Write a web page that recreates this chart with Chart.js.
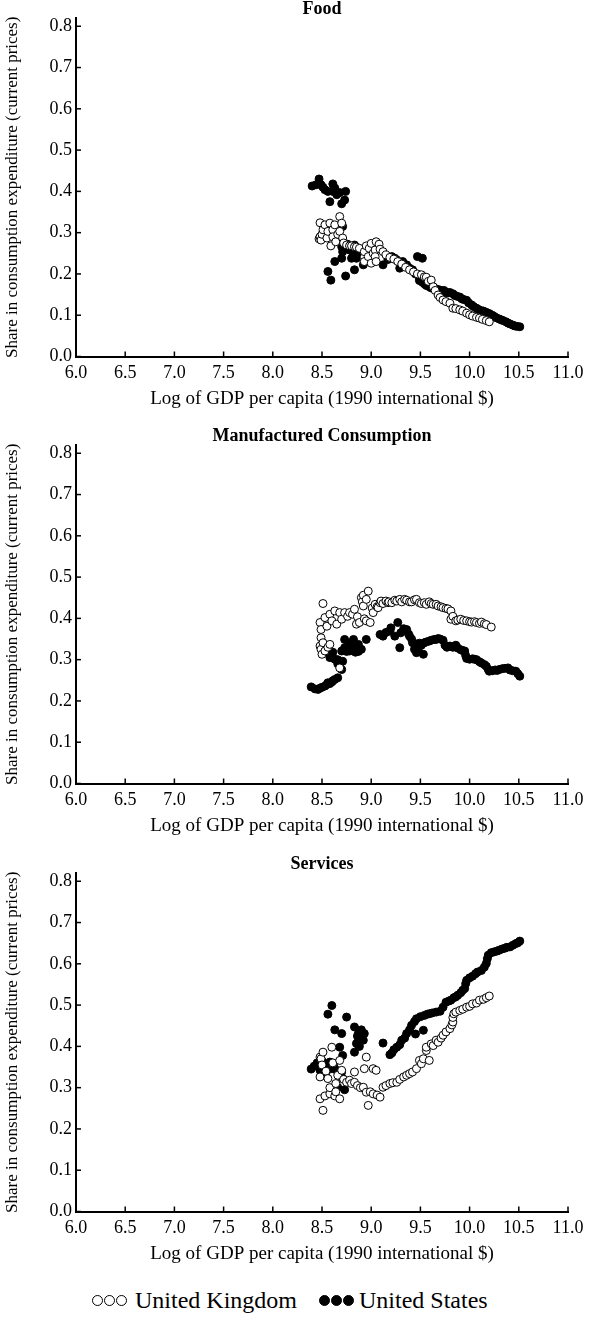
<!DOCTYPE html>
<html>
<head>
<meta charset="utf-8">
<script src="https://cdn.jsdelivr.net/npm/chart.js@4.4.1/dist/chart.umd.min.js"></script>
<style>
  html, body { margin: 0; padding: 0; background: #fff; }
  body { position: relative; width: 604px; height: 1317px; overflow: hidden; }
  canvas { position: absolute; left: 0; }
  #legend { position: absolute; top: 1287px; left: 92px; display: flex; align-items: center;
            font-family: 'Liberation Serif', 'DejaVu Serif', serif; font-size: 24px; color: #000; line-height: 26px; }
  .dot { display: inline-block; width: 9px; height: 9px; border: 1px solid #000; border-radius: 50%; margin-right: 1px; }
  .dot.open { background: #fff; }
  .dot.fill { background: #000; }
</style>
</head>
<body>
<canvas id="food" width="604" height="420" style="top:0px"></canvas>
<canvas id="manuf" width="604" height="420" style="top:427px"></canvas>
<canvas id="serv" width="604" height="420" style="top:855px"></canvas>
<div id="legend">
  <span class="dot open"></span><span class="dot open"></span><span class="dot open"></span>
  <span style="margin-left:7px">United Kingdom</span>
  <span style="margin-left:22px"></span>
  <span class="dot fill"></span><span class="dot fill"></span><span class="dot fill"></span>
  <span style="margin-left:4px">United States</span>
</div>
<script>
// panel titles and series names
var panelTitles = ["Food", "Manufactured Consumption", "Services"];
var seriesNames = ["United Kingdom", "United States"];

// x ticks: log GDP per capita, y ticks: share
var xMin = 6.0, xMax = 11.0, xStep = 0.5;
var yMin = 0.0, yMax = 0.82, yStep = 0.1;

// Food
var foodUK = [
  [8.47,0.285],[8.48,0.324],[8.48,0.290],[8.49,0.282],[8.50,0.296],[8.51,0.307],[8.53,0.319],[8.55,0.287],
  [8.56,0.303],[8.58,0.323],[8.59,0.268],[8.61,0.307],[8.61,0.290],[8.63,0.319],[8.64,0.278],[8.66,0.296],
  [8.68,0.339],[8.68,0.303],[8.70,0.323],[8.71,0.287],[8.72,0.275],[8.75,0.270],[8.78,0.268],[8.80,0.268],
  [8.83,0.266],[8.85,0.265],[8.88,0.262],[8.93,0.254],[8.93,0.230],[8.95,0.268],[8.97,0.242],[8.98,0.262],
  [9.00,0.274],[9.00,0.226],[9.02,0.250],[9.04,0.258],[9.04,0.242],[9.05,0.278],[9.05,0.230],[9.08,0.272],
  [9.09,0.260],[9.12,0.254],[9.15,0.246],[9.19,0.240],[9.23,0.236],[9.27,0.230],[9.31,0.224],[9.35,0.216],
  [9.39,0.210],[9.43,0.205],[9.47,0.200],[9.51,0.198],[9.54,0.193],[9.56,0.192],[9.58,0.182],[9.61,0.185],
  [9.63,0.169],[9.65,0.160],[9.68,0.149],[9.70,0.143],[9.73,0.137],[9.76,0.133],[9.80,0.129],[9.83,0.117],
  [9.86,0.116],[9.90,0.113],[9.93,0.110],[9.97,0.105],[10.00,0.101],[10.03,0.098],[10.07,0.095],[10.10,0.093],
  [10.13,0.090],[10.17,0.087],[10.20,0.084]
];
var foodUS = [
  [8.40,0.413],[8.44,0.416],[8.47,0.430],[8.49,0.416],[8.51,0.410],[8.53,0.404],[8.56,0.400],[8.58,0.375],
  [8.61,0.418],[8.61,0.400],[8.63,0.408],[8.65,0.392],[8.68,0.397],[8.70,0.370],[8.73,0.379],[8.74,0.400],
  [8.56,0.206],[8.59,0.185],[8.63,0.230],[8.70,0.238],[8.70,0.266],[8.71,0.254],[8.71,0.315],[8.74,0.195],
  [8.75,0.262],[8.76,0.272],[8.78,0.258],[8.80,0.238],[8.82,0.246],[8.83,0.270],[8.83,0.210],[8.85,0.238],
  [8.86,0.250],[8.87,0.262],[8.88,0.258],[8.92,0.222],[8.95,0.230],
  [9.12,0.222],[9.17,0.235],[9.21,0.242],[9.24,0.238],[9.26,0.234],[9.29,0.214],[9.29,0.226],[9.32,0.230],
  [9.34,0.220],[9.36,0.222],[9.39,0.214],[9.42,0.210],[9.47,0.242],[9.52,0.238],
  [9.45,0.200],[9.49,0.190],[9.49,0.184],[9.52,0.180],[9.54,0.176],[9.56,0.172],[9.59,0.169],[9.61,0.166],
  [9.64,0.165],[9.67,0.163],[9.70,0.161],[9.72,0.158],[9.74,0.160],[9.76,0.156],[9.78,0.154],[9.80,0.155],
  [9.83,0.152],[9.85,0.148],[9.87,0.146],[9.90,0.144],[9.92,0.140],[9.94,0.138],[9.97,0.136],[9.99,0.130],
  [10.02,0.125],[10.04,0.121],[10.07,0.117],[10.09,0.114],[10.12,0.111],[10.14,0.110],[10.17,0.107],[10.20,0.104],
  [10.23,0.100],[10.25,0.097],[10.27,0.094],[10.30,0.091],[10.32,0.089],[10.34,0.087],[10.37,0.084],[10.39,0.081],
  [10.41,0.079],[10.44,0.076],[10.46,0.074],[10.48,0.073],[10.51,0.072]
];

// Manufactured consumption
var manufUK = [
  [8.48,0.390],[8.48,0.333],[8.49,0.373],[8.49,0.353],[8.49,0.325],[8.50,0.313],[8.51,0.436],[8.51,0.341],
  [8.53,0.402],[8.53,0.321],[8.55,0.381],[8.56,0.330],[8.58,0.410],[8.58,0.337],[8.60,0.394],[8.63,0.418],
  [8.65,0.386],[8.68,0.414],[8.68,0.280],[8.70,0.398],[8.73,0.414],[8.76,0.405],[8.78,0.414],[8.81,0.410],
  [8.83,0.422],[8.85,0.386],[8.86,0.404],[8.88,0.390],[8.90,0.450],[8.91,0.440],[8.92,0.456],[8.92,0.430],
  [8.93,0.399],[8.95,0.446],[8.95,0.394],[8.97,0.466],[8.99,0.390],[9.01,0.425],[9.02,0.414],[9.04,0.434],
  [9.06,0.428],[9.07,0.426],[9.09,0.438],[9.10,0.442],[9.12,0.436],[9.15,0.442],[9.17,0.438],[9.18,0.440],
  [9.21,0.438],[9.24,0.444],[9.26,0.442],[9.29,0.446],[9.31,0.440],[9.34,0.446],[9.36,0.444],[9.39,0.440],
  [9.41,0.440],[9.44,0.445],[9.46,0.446],[9.49,0.438],[9.51,0.436],[9.54,0.438],[9.56,0.434],[9.59,0.440],
  [9.61,0.436],[9.63,0.434],[9.66,0.434],[9.68,0.430],[9.71,0.428],[9.73,0.426],[9.76,0.424],[9.78,0.423],
  [9.81,0.418],[9.81,0.398],[9.83,0.405],[9.86,0.394],[9.88,0.396],[9.91,0.398],[9.94,0.395],[9.97,0.394],
  [10.00,0.392],[10.02,0.391],[10.05,0.392],[10.07,0.390],[10.10,0.388],[10.12,0.391],[10.15,0.387],[10.17,0.385],
  [10.22,0.379]
];
var manufUS = [
  [8.39,0.234],[8.43,0.229],[8.46,0.228],[8.48,0.231],[8.50,0.233],[8.53,0.236],[8.55,0.240],[8.56,0.244],
  [8.58,0.242],[8.60,0.246],[8.61,0.249],[8.63,0.252],[8.66,0.256],
  [8.58,0.305],[8.60,0.309],[8.61,0.318],[8.63,0.301],[8.66,0.300],[8.66,0.290],[8.68,0.288],[8.70,0.276],
  [8.70,0.321],[8.71,0.296],[8.73,0.329],[8.73,0.349],[8.75,0.320],[8.78,0.340],[8.78,0.321],[8.80,0.330],
  [8.82,0.349],[8.84,0.318],[8.87,0.337],[8.87,0.320],[8.90,0.325],[8.95,0.349],
  [9.09,0.361],[9.12,0.357],[9.15,0.366],[9.19,0.369],[9.20,0.377],[9.24,0.357],[9.27,0.390],[9.29,0.329],
  [9.30,0.365],[9.33,0.375],[9.36,0.373],[9.38,0.362],[9.39,0.357],[9.41,0.350],[9.42,0.341],[9.44,0.325],
  [9.46,0.317],[9.46,0.338],[9.48,0.321],[9.49,0.340],[9.51,0.335],[9.53,0.313],[9.54,0.341],[9.56,0.343],
  [9.59,0.345],[9.61,0.347],[9.64,0.349],[9.66,0.349],[9.68,0.351],[9.70,0.350],[9.73,0.347],[9.75,0.335],
  [9.77,0.330],[9.80,0.333],[9.83,0.330],[9.86,0.335],[9.88,0.328],[9.91,0.324],[9.93,0.322],[9.95,0.321],
  [9.96,0.310],[9.97,0.303],[10.00,0.301],[10.03,0.302],[10.05,0.301],[10.07,0.300],[10.10,0.295],[10.12,0.292],
  [10.15,0.288],[10.17,0.284],[10.19,0.276],[10.20,0.272],[10.23,0.273],[10.26,0.275],[10.28,0.274],[10.30,0.276],
  [10.33,0.278],[10.36,0.279],[10.39,0.280],[10.41,0.275],[10.44,0.273],[10.47,0.272],[10.49,0.266],[10.51,0.260]
];

// Services
var servUK = [
  [8.48,0.374],[8.48,0.326],[8.48,0.273],[8.49,0.370],[8.50,0.355],[8.51,0.386],[8.51,0.245],[8.53,0.280],
  [8.54,0.340],[8.56,0.322],[8.58,0.285],[8.58,0.300],[8.60,0.398],[8.61,0.360],[8.63,0.280],[8.64,0.290],
  [8.64,0.310],[8.66,0.330],[8.68,0.366],[8.68,0.273],[8.70,0.342],[8.72,0.320],[8.75,0.313],[8.78,0.318],
  [8.80,0.310],[8.83,0.338],[8.83,0.313],[8.86,0.305],[8.89,0.300],[8.92,0.301],[8.93,0.346],[8.95,0.374],
  [8.95,0.289],[8.97,0.257],[8.99,0.290],[9.02,0.346],[9.02,0.285],[9.05,0.342],[9.06,0.282],[9.09,0.277],
  [9.12,0.301],[9.15,0.305],[9.19,0.310],[9.22,0.312],[9.26,0.313],[9.29,0.320],[9.33,0.326],[9.36,0.330],
  [9.39,0.334],[9.42,0.338],[9.46,0.346],[9.49,0.366],[9.51,0.358],[9.53,0.370],[9.56,0.390],[9.56,0.398],
  [9.59,0.366],[9.61,0.406],[9.63,0.402],[9.66,0.415],[9.68,0.410],[9.71,0.420],[9.73,0.427],[9.76,0.435],
  [9.80,0.443],[9.82,0.452],[9.83,0.459],[9.83,0.470],[9.84,0.479],[9.86,0.483],[9.90,0.487],[9.93,0.490],
  [9.97,0.495],[10.00,0.497],[10.03,0.503],[10.07,0.505],[10.10,0.512],[10.14,0.514],[10.17,0.518],[10.20,0.522]
];
var servUS = [
  [8.39,0.345],[8.42,0.352],[8.45,0.360],[8.48,0.358],[8.48,0.342],[8.50,0.365],[8.51,0.330],[8.53,0.350],
  [8.54,0.335],[8.56,0.355],[8.58,0.362],[8.60,0.346],[8.62,0.352],[8.65,0.342],[8.66,0.301],[8.68,0.330],
  [8.70,0.338],[8.71,0.322],[8.73,0.295],
  [8.56,0.478],[8.60,0.499],[8.63,0.440],[8.68,0.398],[8.70,0.431],[8.71,0.378],[8.75,0.471],[8.83,0.447],
  [8.83,0.386],[8.85,0.407],[8.86,0.425],[8.87,0.431],[8.87,0.420],[8.88,0.400],[8.90,0.440],[8.92,0.415],
  [8.93,0.431],[9.12,0.408],
  [9.19,0.380],[9.21,0.384],[9.23,0.392],[9.26,0.398],[9.29,0.404],[9.31,0.415],[9.34,0.420],[9.36,0.431],
  [9.39,0.440],[9.41,0.451],[9.44,0.460],[9.46,0.467],[9.45,0.430],[9.50,0.472],[9.53,0.439],[9.54,0.475],
  [9.57,0.478],[9.59,0.479],[9.62,0.481],[9.66,0.483],[9.70,0.485],[9.73,0.495],[9.76,0.507],[9.79,0.510],
  [9.81,0.512],[9.84,0.518],[9.86,0.520],[9.88,0.524],[9.91,0.530],[9.93,0.536],[9.95,0.540],[9.96,0.552],
  [9.97,0.560],[10.00,0.566],[10.03,0.570],[10.06,0.576],[10.08,0.580],[10.12,0.584],[10.15,0.592],[10.17,0.601],
  [10.18,0.612],[10.19,0.621],[10.22,0.627],[10.25,0.629],[10.28,0.631],[10.30,0.633],[10.33,0.636],[10.36,0.638],
  [10.38,0.640],[10.41,0.641],[10.44,0.645],[10.47,0.649],[10.49,0.651],[10.51,0.655]
];

var serif = "'Liberation Serif', 'DejaVu Serif', serif";

function toPoints(arr) {
  return arr.map(function (p) { return { x: p[0], y: p[1] }; });
}

// short tick marks pointing into the plot
var inwardTicks = {
  id: 'inwardTicks',
  afterDraw: function (chart) {
    var ctx = chart.ctx, area = chart.chartArea;
    var xs = chart.scales.x, ys = chart.scales.y;
    ctx.save();
    ctx.strokeStyle = '#000';
    ctx.lineWidth = 1.5;
    xs.ticks.forEach(function (t) {
      var px = xs.getPixelForValue(t.value);
      ctx.beginPath();
      ctx.moveTo(px, area.bottom);
      ctx.lineTo(px, area.bottom - 5);
      ctx.stroke();
    });
    ys.ticks.forEach(function (t) {
      var py = ys.getPixelForValue(t.value);
      ctx.beginPath();
      ctx.moveTo(area.left, py);
      ctx.lineTo(area.left + 5, py);
      ctx.stroke();
    });
    ctx.restore();
  }
};

function makeChart(id, title, uk, us) {
  var ctx = document.getElementById(id);
  return new Chart(ctx, {
    type: 'scatter',
    data: {
      datasets: [{
        label: seriesNames[0],
        data: toPoints(uk),
        pointRadius: 4,
        pointBackgroundColor: '#fff',
        pointBorderColor: '#000',
        pointBorderWidth: 1
      }, {
        label: seriesNames[1],
        data: toPoints(us),
        pointRadius: 4,
        pointBackgroundColor: '#000',
        pointBorderColor: '#000',
        pointBorderWidth: 1
      }]
    },
    options: {
      responsive: false,
      animation: false,
      events: [],
      layout: { padding: { left: 0, right: 36, top: 0, bottom: 0 } },
      plugins: {
        legend: { display: false },
        tooltip: { enabled: false },
        title: {
          display: true,
          fullSize: false,
          text: title,
          color: '#000',
          font: { family: serif, size: 18, weight: 'bold', lineHeight: 1.0 },
          padding: { top: 0, bottom: 0 }
        }
      },
      scales: {
        x: {
          type: 'linear',
          min: xMin, max: xMax,
          grid: { display: false, drawTicks: false },
          border: { display: true, color: '#000', width: 2 },
          ticks: {
            stepSize: xStep, autoSkip: false, maxRotation: 0, padding: 6,
            color: '#000', font: { family: serif, size: 18 },
            callback: function (v) { return Number(v).toFixed(1); }
          },
          title: {
            display: true,
            text: 'Log of GDP per capita (1990 international $)',
            color: '#000',
            font: { family: serif, size: 19 },
            padding: { top: 0, bottom: 10 }
          },
          afterFit: function (scale) { scale.height = 63.5; }
        },
        y: {
          type: 'linear',
          min: yMin, max: yMax,
          grid: { display: false, drawTicks: false },
          border: { display: true, color: '#000', width: 2 },
          ticks: {
            stepSize: yStep, includeBounds: false, padding: 4,
            color: '#000', font: { family: serif, size: 18 },
            callback: function (v) { return Number(v).toFixed(1); }
          },
          title: {
            display: true,
            text: 'Share in consumption expenditure (current prices)',
            color: '#000',
            font: { family: serif, size: 17 },
            padding: { top: 2, bottom: 0 }
          },
          afterFit: function (scale) { scale.width = 76; }
        }
      }
    },
    plugins: [inwardTicks]
  });
}

makeChart('food', panelTitles[0], foodUK, foodUS);
makeChart('manuf', panelTitles[1], manufUK, manufUS);
makeChart('serv', panelTitles[2], servUK, servUS);
</script>
</body>
</html>
